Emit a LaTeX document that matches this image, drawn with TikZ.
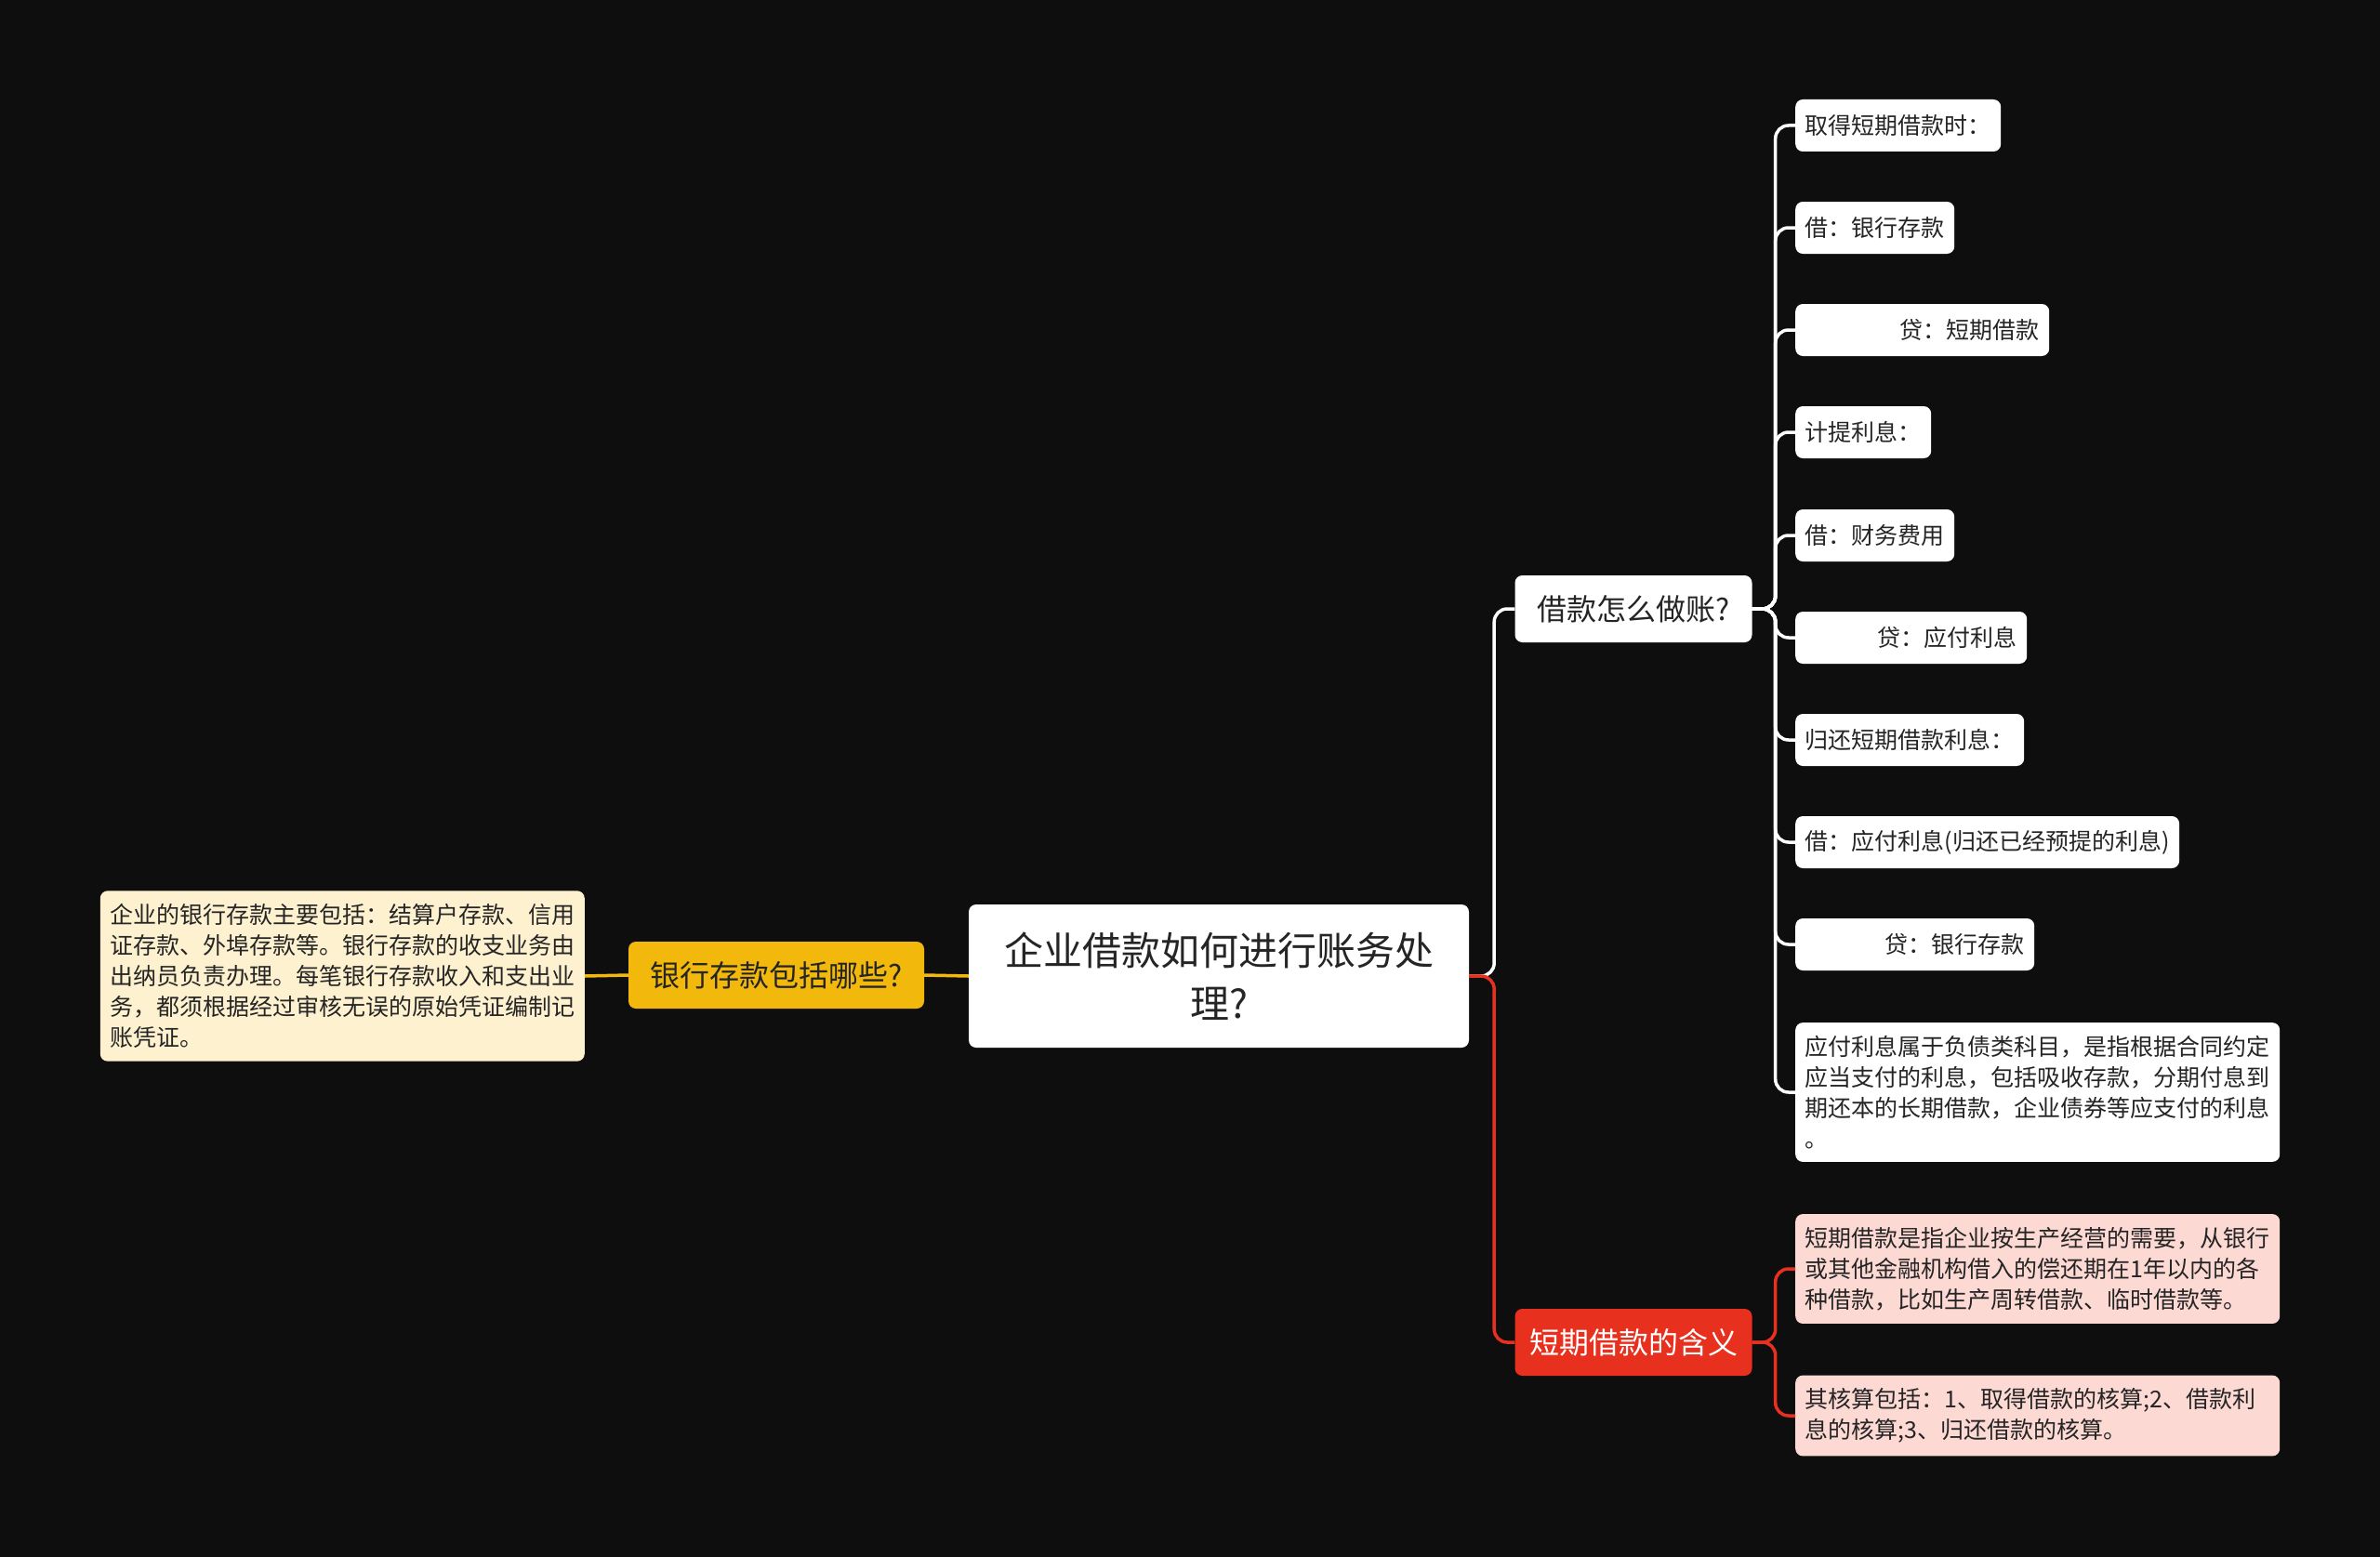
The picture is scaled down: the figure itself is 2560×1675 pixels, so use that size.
\documentclass[tikz,border=0pt]{standalone}
\usepackage{fontspec}
\setmainfont{Noto Sans CJK SC}
\usepackage{xcolor}
\usetikzlibrary{positioning}

\definecolor{bgdark}{HTML}{0E0E0E}
\definecolor{txtdark}{HTML}{252525}
\definecolor{goldfill}{HTML}{F2B90C}
\definecolor{creamfill}{HTML}{FDF1CF}
\definecolor{redfill}{HTML}{E8301E}
\definecolor{pinkfill}{HTML}{FDD9D4}

\tikzset{
  rootbox/.style={fill=white, rounded corners=8pt, minimum width=538pt, minimum height=154pt,
    align=center, text=txtdark, font=\fontsize{42}{57}\selectfont},
  midbox/.style={rounded corners=8pt, minimum height=72pt, inner xsep=12pt,
    font=\fontsize{32}{40}\selectfont},
  leaf/.style={fill=white, rounded corners=8pt, anchor=west, inner xsep=10.5pt, inner ysep=14pt,
    minimum height=56pt, align=left, text=txtdark, font=\fontsize{25}{33}\selectfont},
  wline/.style={draw=white, line width=3.5pt, rounded corners=14pt},
  rline/.style={draw=redfill, line width=3.5pt, rounded corners=14pt},
  yline/.style={draw=goldfill, line width=3.5pt}
}

\begin{document}
\begin{tikzpicture}[x=1pt,y=-1pt]
\fill[bgdark] (0,0) rectangle (2560,1675);

% centre and left side
\node[rootbox] (root) at (1311,1050) {企业借款如何进行账务处\\理?};
\node[midbox, fill=goldfill, text=txtdark, minimum width=318pt] (bank) at (835,1049) {银行存款包括哪些?};
\node[leaf, fill=creamfill, anchor=east, text width=500pt] (bankleaf) at (629,1050)
  {企业的银行存款主要包括：结算户存款、信用\\证存款、外埠存款等。银行存款的收支业务由\\出纳员负责办理。每笔银行存款收入和支出业\\务，都须根据经过审核无误的原始凭证编制记\\账凭证。};

% right side
\node[midbox, fill=white, text=txtdark, minimum width=255pt] (how) at (1757,655) {借款怎么做账?};
\node[midbox, fill=redfill, text=white, minimum width=255pt] (mean) at (1757,1444) {短期借款的含义};

\node[leaf] (a1) at (1931,135) {取得短期借款时：};
\node[leaf] (a2) at (1931,245) {借：银行存款};
\node[leaf, text width=252pt, align=right] (a3) at (1931,355) {贷：短期借款};
\node[leaf, text width=228pt, align=right] (a6) at (1931,686) {贷：应付利息};
\node[leaf] (a4) at (1931,465) {计提利息：};
\node[leaf] (a5) at (1931,576) {借：财务费用};
\node[leaf] (a7) at (1931,796) {归还短期借款利息：};
\node[leaf] (a8) at (1931,906) {借：应付利息(归还已经预提的利息)};
\node[leaf, text width=236pt, align=right] (a9) at (1931,1016) {贷：银行存款};
\node[leaf, text width=500pt] (a10) at (1931,1175)
  {应付利息属于负债类科目，是指根据合同约定\\应当支付的利息，包括吸收存款，分期付息到\\期还本的长期借款，企业债券等应支付的利息\\。};

\node[leaf, fill=pinkfill, text width=500pt] (b1) at (1931,1365)
  {短期借款是指企业按生产经营的需要，从银行\\或其他金融机构借入的偿还期在1年以内的各\\种借款，比如生产周转借款、临时借款等。};
\node[leaf, fill=pinkfill, text width=500pt] (b2) at (1931,1523)
  {其核算包括：1、取得借款的核算;2、借款利\\息的核算;3、归还借款的核算。};

% connectors
\draw[yline] (root.west) -- (bank.east);
\draw[yline] (bank.west) -- (bankleaf.east);
\draw[wline] (root.east) -- ++(27,0) |- (how.west);
\draw[rline] (root.east) -- ++(27,0) |- (mean.west);
\foreach \n in {a1,a2,a3,a4,a5,a6,a7,a8,a9,a10}
  \draw[wline] (how.east) -- ++(25,0) |- (\n.west);
\foreach \n in {b1,b2}
  \draw[rline] (mean.east) -- ++(25,0) |- (\n.west);
\end{tikzpicture}
\end{document}
